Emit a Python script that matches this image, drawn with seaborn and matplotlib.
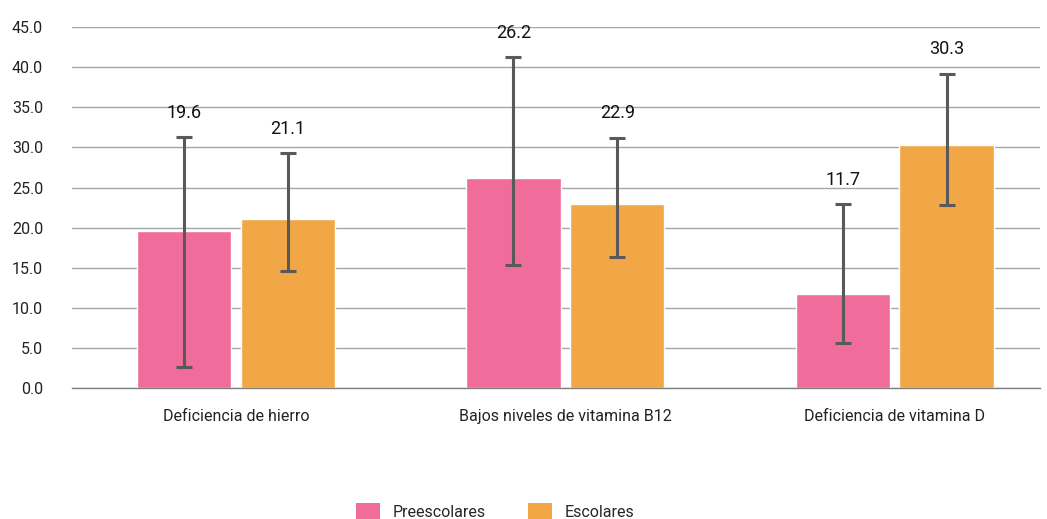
import matplotlib
matplotlib.use("Agg")
import matplotlib.pyplot as plt
import seaborn as sns
import pandas as pd
import numpy as np
from matplotlib.patches import Patch

categories = ["Deficiencia de hierro", "Bajos niveles de vitamina B12", "Deficiencia de vitamina D"]
groups = ["Preescolares", "Escolares"]
preescolares = [19.6, 26.2, 11.7]
escolares = [21.1, 22.9, 30.3]
pre_low = [2.7, 15.3, 5.6]
pre_high = [31.3, 41.2, 22.9]
esc_low = [14.6, 16.3, 22.8]
esc_high = [29.3, 31.2, 39.2]
yticks = [0, 5, 10, 15, 20, 25, 30, 35, 40, 45]

colors = ["#F06C9B", "#F2A746"]

sns.set_theme(style="white")
plt.rcParams["font.family"] = ["Roboto", "DejaVu Sans"]

df = pd.DataFrame({
    "cat": categories * 2,
    "grp": [groups[0]] * 3 + [groups[1]] * 3,
    "val": preescolares + escolares,
    "low": pre_low + esc_low,
    "high": pre_high + esc_high,
})

fig, ax = plt.subplots(figsize=(10.47, 5.19), dpi=100)
fig.subplots_adjust(left=0.069, right=0.993, top=0.948, bottom=0.252)

sns.barplot(data=df, x="cat", y="val", hue="grp", order=categories, hue_order=groups,
            palette=colors, width=0.63, gap=0.09, errorbar=None, legend=False, ax=ax,
            saturation=1)

ax.set_ylim(0, 45)
ax.set_xlim(-0.497, 2.44)
ax.set_yticks(yticks)
ax.set_yticklabels([f"{v:.1f}" for v in yticks])
ax.yaxis.grid(True, color="#a6a6a6", linewidth=1)
ax.set_axisbelow(True)
for s in ["top", "right", "left"]:
    ax.spines[s].set_visible(False)
ax.spines["bottom"].set_color("#808080")
ax.spines["bottom"].set_linewidth(1)
ax.tick_params(axis="both", length=0, labelsize=11.5, colors="#222222")
ax.tick_params(axis="y", pad=21)
ax.tick_params(axis="x", pad=15)
ax.set_xlabel("")
ax.set_ylabel("")

# error bars and labels, aligned to the bars seaborn drew
bars = sorted([p for p in ax.patches if p.get_height() > 0], key=lambda p: p.get_x())
vals, lows, highs = [], [], []
for i in range(3):
    for g, (v, lo, hi) in enumerate([(preescolares, pre_low, pre_high), (escolares, esc_low, esc_high)]):
        vals.append(v[i]); lows.append(lo[i]); highs.append(hi[i])
for p, v, lo, hi in zip(bars, vals, lows, highs):
    xc = p.get_x() + p.get_width() / 2
    ax.errorbar(xc, v, yerr=[[v - lo], [hi - v]], fmt="none", ecolor="#595959",
                elinewidth=2.2, capsize=6, capthick=2.2)
    ax.annotate(f"{v:.1f}", (xc, hi), xytext=(0, 11), textcoords="offset points",
                ha="center", va="bottom", fontsize=13, color="#111111")

handles = [Patch(facecolor=c, edgecolor="none") for c in colors]
fig.legend(handles, groups, loc="lower center", bbox_to_anchor=(0.473, -0.03), ncol=2,
           frameon=False, fontsize=11.5, handlelength=1.5, handleheight=1.3,
           columnspacing=2.6, handletextpad=0.8)

fig.savefig("out.png", dpi=100)
